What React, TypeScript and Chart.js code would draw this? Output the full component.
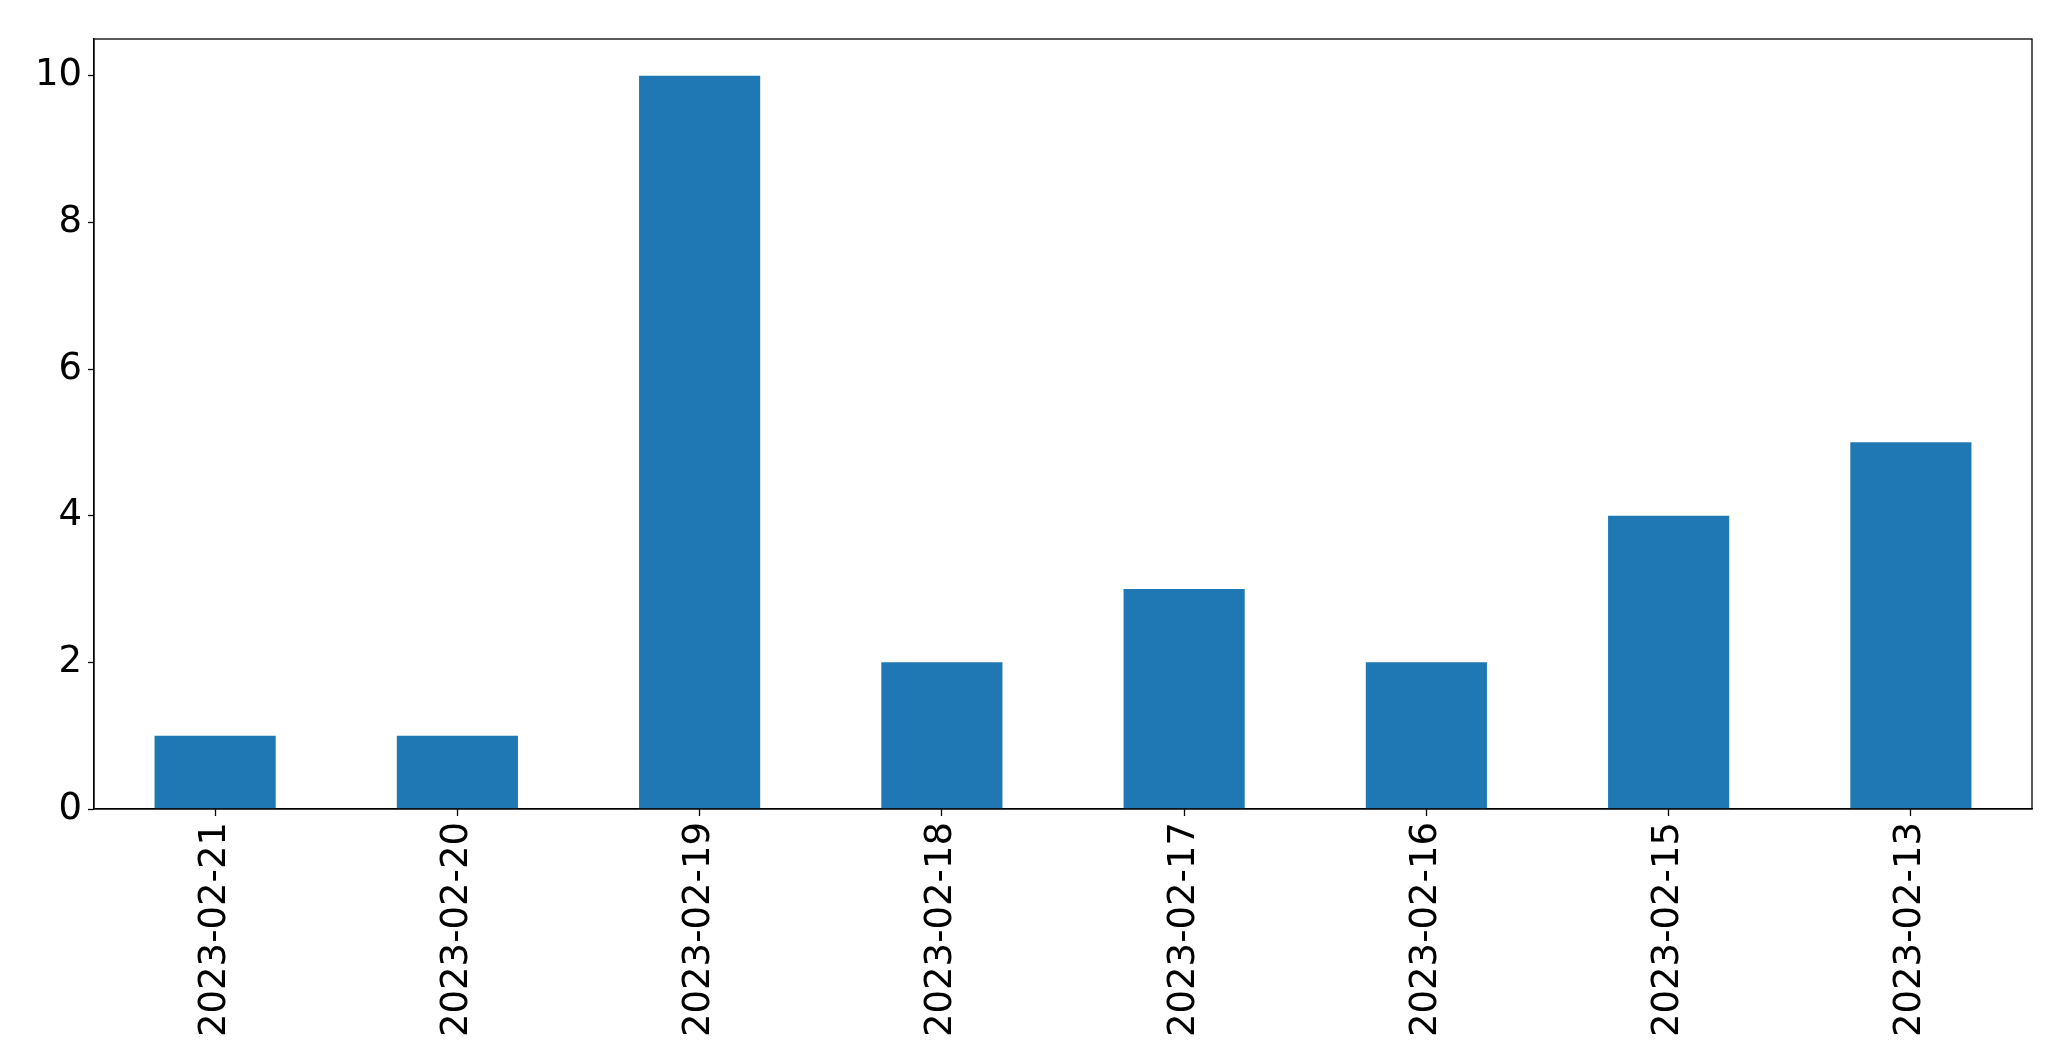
import React, { useEffect, useRef } from "react";
import { Chart, registerables } from "chart.js";

Chart.register(...registerables);

const categories = [
  "2023-02-21",
  "2023-02-20",
  "2023-02-19",
  "2023-02-18",
  "2023-02-17",
  "2023-02-16",
  "2023-02-15",
  "2023-02-13",
];
const counts = [1, 1, 10, 2, 3, 2, 4, 5];
const yMin = 0;
const yMax = 10.5;
const yStep = 2;

const framePlugin = {
  id: "frame",
  afterDraw(chart: any) {
    const { ctx, chartArea } = chart;
    ctx.save();
    ctx.strokeStyle = "#000000";
    ctx.lineWidth = 1.3;
    ctx.strokeRect(
      chartArea.left,
      chartArea.top,
      chartArea.right - chartArea.left,
      chartArea.bottom - chartArea.top
    );
    ctx.restore();
  },
};

export default function App() {
  const ref = useRef<HTMLCanvasElement | null>(null);

  useEffect(() => {
    document.body.style.margin = "0";
    const canvas = ref.current;
    if (!canvas) return;
    const font = { family: "'DejaVu Sans', sans-serif", size: 37 };
    const chart = new Chart(canvas, {
      type: "bar",
      data: {
        labels: categories,
        datasets: [
          {
            data: counts,
            backgroundColor: "#1f77b4",
            borderWidth: 0,
            categoryPercentage: 1,
            barPercentage: 0.5,
          },
        ],
      },
      options: {
        responsive: false,
        animation: false,
        devicePixelRatio: 1,
        layout: { padding: { top: 39, right: 39, left: 0, bottom: 0 } },
        plugins: {
          legend: { display: false },
          tooltip: { enabled: false },
        },
        scales: {
          x: {
            type: "category",
            offset: true,
            grid: {
              display: true,
              offset: false,
              drawOnChartArea: false,
              drawTicks: true,
              tickLength: 7,
              tickColor: "#000000",
              tickWidth: 1.3,
            },
            border: { display: true, color: "#000000", width: 1.3 },
            ticks: {
              color: "#000000",
              font,
              minRotation: 90,
              maxRotation: 90,
              autoSkip: false,
              padding: 6,
            },
            afterFit(scale: any) {
              scale.height = 252;
            },
          },
          y: {
            type: "linear",
            min: yMin,
            max: yMax,
            grid: {
              display: true,
              drawOnChartArea: false,
              drawTicks: true,
              tickLength: 6,
              tickColor: "#000000",
              tickWidth: 1.3,
            },
            border: { display: true, color: "#000000", width: 1.3 },
            ticks: {
              color: "#000000",
              font,
              stepSize: yStep,
              includeBounds: false,
              padding: 6,
            },
            afterFit(scale: any) {
              scale.width = 94;
            },
          },
        },
      },
      plugins: [framePlugin],
    });
    return () => chart.destroy();
  }, []);

  return (
    <div style={{ width: 2071, height: 1061, background: "#ffffff" }}>
      <canvas ref={ref} width={2071} height={1061} style={{ display: "block" }} />
    </div>
  );
}
